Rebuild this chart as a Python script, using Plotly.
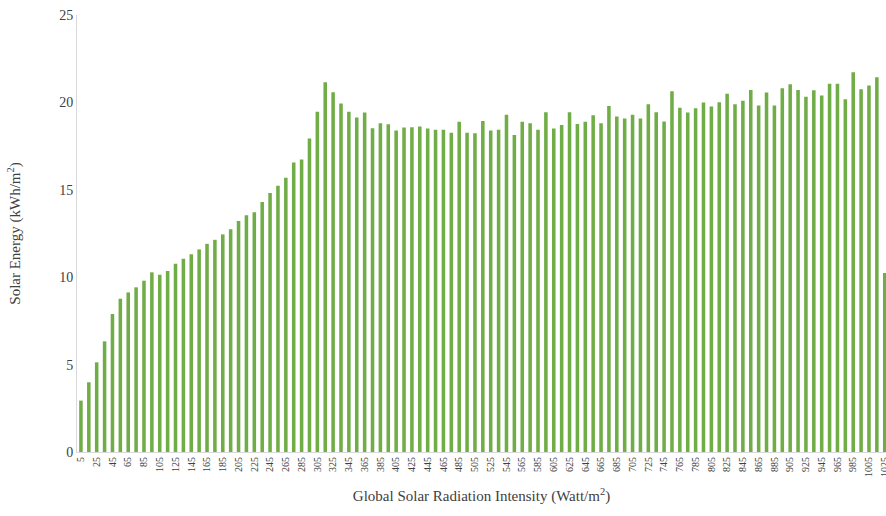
import plotly.graph_objects as go

# Global solar radiation intensity classes (Watt/m²), 5 to 1025 in steps of 10
intensity = [str(v) for v in range(5, 1026, 10)]

# Solar energy per class (kWh/m²)
energy = [
    2.94, 3.99, 5.13, 6.33, 7.89, 8.77, 9.13, 9.42, 9.80, 10.28,
    10.14, 10.35, 10.77, 11.06, 11.32, 11.59, 11.91, 12.14, 12.45, 12.75,
    13.21, 13.55, 13.72, 14.30, 14.81, 15.23, 15.69, 16.56, 16.73, 17.93,
    19.47, 21.15, 20.58, 19.93, 19.47, 19.13, 19.42, 18.52, 18.81, 18.75,
    18.39, 18.56, 18.58, 18.62, 18.50, 18.43, 18.43, 18.27, 18.89, 18.27,
    18.24, 18.93, 18.39, 18.43, 19.29, 18.14, 18.89, 18.81, 18.43, 19.44,
    18.50, 18.70, 19.44, 18.77, 18.89, 19.27, 18.81, 19.80, 19.19, 19.08,
    19.29, 19.08, 19.90, 19.44, 18.91, 20.64, 19.70, 19.42, 19.67, 19.99,
    19.76, 20.01, 20.49, 19.90, 20.10, 20.71, 19.82, 20.56, 19.82, 20.81,
    21.04, 20.71, 20.33, 20.69, 20.39, 21.06, 21.06, 20.18, 21.72, 20.75,
    20.96, 21.44, 10.24,
]

# Every other class is labelled on the x axis
x_ticks = intensity[::2]

font_family = "Liberation Serif, Times New Roman, serif"

fig = go.Figure(
    go.Bar(
        x=intensity,
        y=energy,
        marker=dict(color="#70AD47", line=dict(width=0)),
    )
)

fig.update_layout(
    width=886,
    height=516,
    margin=dict(l=77, r=0, t=15, b=64),
    paper_bgcolor="white",
    plot_bgcolor="white",
    bargap=0.55,
    showlegend=False,
    font=dict(family=font_family, color="#404040"),
)

fig.update_xaxes(
    type="category",
    range=[-0.5, 102.16],
    automargin=False,
    tickmode="array",
    tickvals=x_ticks,
    ticktext=x_ticks,
    tickangle=-90,
    tickfont=dict(size=10, family=font_family, color="#404040"),
    showline=True,
    linecolor="#d9d9d9",
    linewidth=1,
    showgrid=False,
    ticks="",
    title=dict(
        text="Global Solar Radiation Intensity (Watt/m<sup>2</sup>)",
        font=dict(size=15, family=font_family, color="#404040"),
        standoff=14,
    ),
)

fig.update_yaxes(
    range=[0, 25],
    dtick=5,
    tickfont=dict(size=14, family=font_family, color="#404040"),
    showline=True,
    linecolor="#d9d9d9",
    linewidth=1,
    showgrid=False,
    zeroline=False,
    ticks="",
    ticklen=0,
    title=dict(
        text="Solar Energy (kWh/m<sup>2</sup>)",
        font=dict(size=15, family=font_family, color="#404040"),
        standoff=34,
    ),
)

fig.write_html("out.html")
